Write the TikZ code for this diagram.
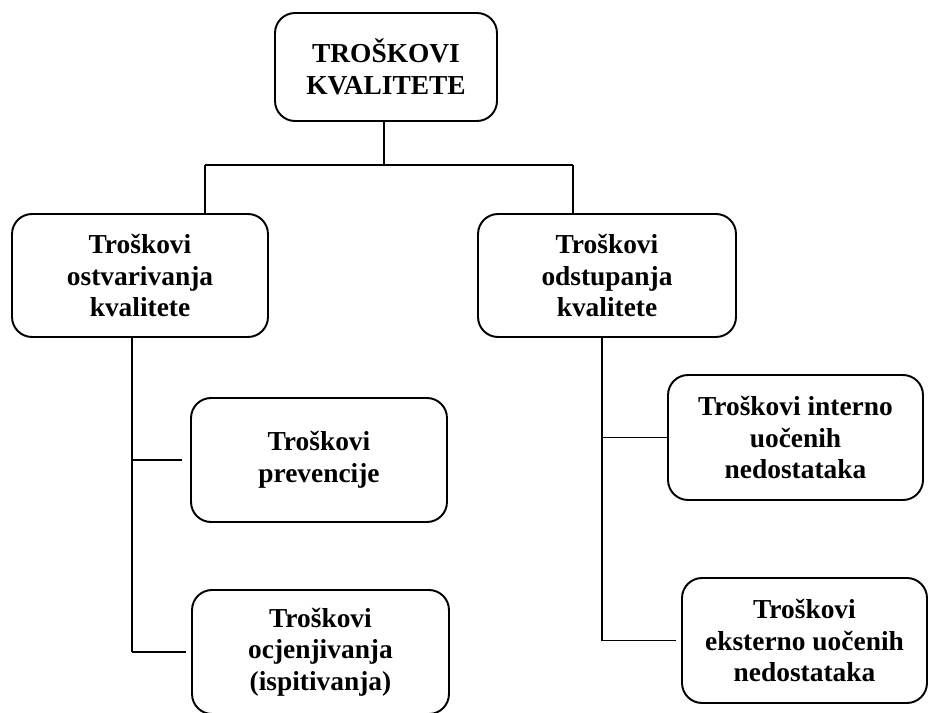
\documentclass[tikz,border=0pt]{standalone}
\usepackage{fontspec}
\setmainfont{Liberation Serif}
\begin{document}
\begin{tikzpicture}[x=0.02cm, y=-0.02cm,
	box/.style={draw, line width=1.1pt, rounded corners=0.4cm, align=center,
		font=\fontsize{15.6pt}{18pt}\selectfont\bfseries, inner sep=0pt},
	link/.style={draw, line width=0.6pt}]
	\useasboundingbox (0,0) rectangle (930,713);

	% Top node and the two main groups
	\node[box, minimum width=4.44cm, minimum height=2.16cm] (top) at (386,67) {TROŠKOVI\\KVALITETE};
	\node[box, minimum width=5.12cm, minimum height=2.46cm] (ostv) at (140,275.5) {Troškovi\\ostvarivanja\\kvalitete};
	\node[box, minimum width=5.16cm, minimum height=2.46cm] (odst) at (607,275.5) {Troškovi\\odstupanja\\kvalitete};

	% Left branch
	\node[box, minimum width=5.12cm, minimum height=2.48cm] (prev) at (319,460) {Troškovi\\prevencije};
	\node[box, minimum width=5.14cm, minimum height=2.48cm] (ocj) at (320.5,652) {Troškovi\\ocjenjivanja\\(ispitivanja)};

	% Right branch
	\node[box, minimum width=5.1cm, minimum height=2.5cm] (int) at (795.5,437.5) {Troškovi interno\\uočenih\\nedostataka};
	\node[box, minimum width=4.9cm, minimum height=2.5cm] (eks) at (804.5,640.5) {Troškovi\\eksterno uočenih\\nedostataka};

	% Connectors
	\coordinate (bar) at (384,165);
	\coordinate (barL) at (205,165);
	\coordinate (barR) at (573,165);
	\coordinate (trunkL) at (132,0);
	\coordinate (trunkR) at (602,0);
	\draw[link] (top.south -| bar) -- (bar);
	\draw[link] (barL) -- (barR);
	\draw[link] (barL) -- (barL |- ostv.north);
	\draw[link] (barR) -- (barR |- odst.north);

	\draw[link] (trunkL |- ostv.south) -- (trunkL |- ocj.west);
	\draw[link, shorten >=0.16cm] (trunkL |- prev.west) -- (prev.west);
	\draw[link, shorten >=0.1cm] (trunkL |- ocj.west) -- (ocj.west);

	\draw[link] (trunkR |- odst.south) -- (trunkR |- eks.west);
	\draw[link] (trunkR |- int.west) -- (int.west);
	\draw[link, shorten >=0.1cm] (trunkR |- eks.west) -- (eks.west);
\end{tikzpicture}
\end{document}
